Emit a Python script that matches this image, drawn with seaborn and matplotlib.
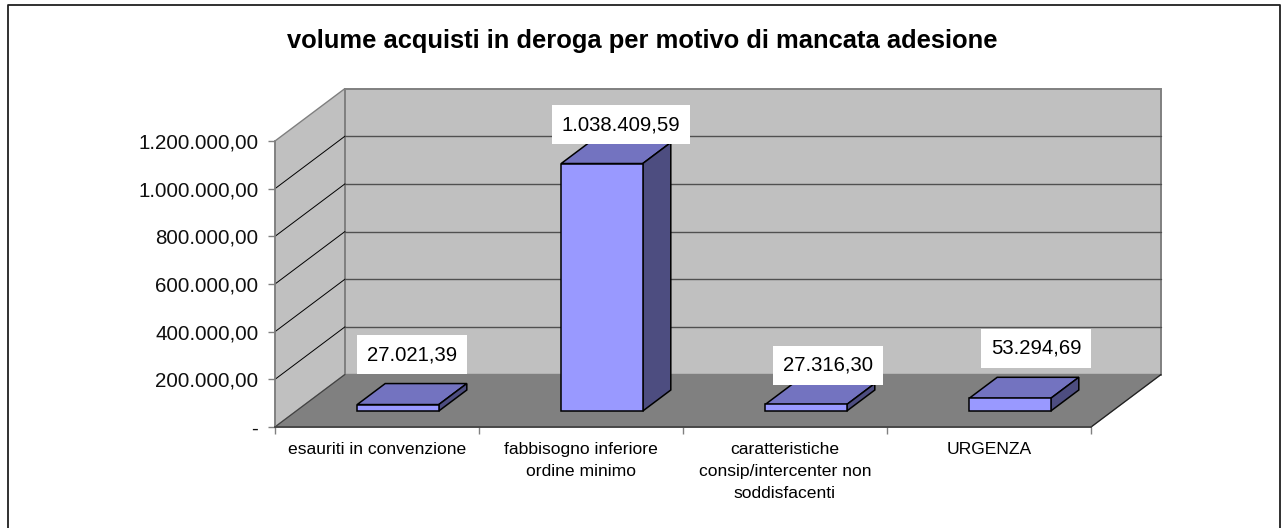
import numpy as np
import pandas as pd
import matplotlib
matplotlib.use('Agg')
import matplotlib.pyplot as plt
from matplotlib.lines import Line2D
from matplotlib.patches import Polygon, Rectangle
import seaborn as sns

# dati
categories = ['esauriti in convenzione',
              'fabbisogno inferiore\nordine minimo',
              'caratteristiche\nconsip/intercenter non\nsoddisfacenti',
              'URGENZA']
values = [27021.39, 1038409.59, 27316.30, 53294.69]
value_labels = ['27.021,39', '1.038.409,59', '27.316,30', '53.294,69']
y_ticks = [0, 200000, 400000, 600000, 800000, 1000000, 1200000]
y_tick_labels = ['-', '200.000,00', '400.000,00', '600.000,00',
                 '800.000,00', '1.000.000,00', '1.200.000,00']
title = 'volume acquisti in deroga per motivo di mancata adesione'

W, H = 1284, 528
L, R, B, T = 275, 1091, 427, 141          # piano frontale in pixel
PX_X = 4 / (R - L)                        # categorie per pixel
PX_Y = 1200000 / (B - T)                  # valore per pixel
DEPTH_X, DEPTH_Y = 70 * PX_X, 52.5 * PX_Y  # profondita del box 3D
BAR_DX, BAR_DY = 21 * PX_X, 16 * PX_Y     # arretramento barre
TOP_DX, TOP_DY = 28 * PX_X, 21 * PX_Y     # profondita barre
LABEL_OFFSET = [(14, 50), (19, 39), (22, 39), (26, 50)]  # px dal bordo barra

sns.set_theme(style='white')
plt.rcParams['font.family'] = ['Liberation Sans', 'DejaVu Sans']

fig = plt.figure(figsize=(W / 100, H / 100), dpi=100)
# cornice del grafico, aperta in basso
frame_x = [7.5 / W, 7.5 / W, 1279.5 / W, 1279.5 / W]
frame_y = [0, 1 - 4.5 / H, 1 - 4.5 / H, 0]
fig.add_artist(Line2D(frame_x, frame_y, color='#202020', linewidth=1.3,
                      transform=fig.transFigure))
ax = fig.add_axes([L / W, 1 - B / H, (R - L) / W, (B - T) / H])
ax.patch.set_alpha(0)

df = pd.DataFrame({'categoria': categories, 'valore': values})
sns.barplot(data=df, x='categoria', y='valore', ax=ax, color='#9999FF',
            saturation=1, width=0.4, edgecolor='black', linewidth=1.1,
            errorbar=None, zorder=5)
ax.set_xlim(-0.5, 3.5)
ax.set_ylim(0, 1200000)

# pareti del box 3D
x0, x1 = -0.5, 3.5
wall = dict(clip_on=False, zorder=0)
ax.add_patch(Polygon([(x0, 0), (x0, 1200000), (x0 + DEPTH_X, 1200000 + DEPTH_Y),
                      (x0 + DEPTH_X, DEPTH_Y)], facecolor='#C0C0C0',
                     edgecolor='#808080', linewidth=1.0, **wall))
ax.add_patch(Rectangle((x0 + DEPTH_X, DEPTH_Y), x1 - x0, 1200000, facecolor='#C0C0C0',
                       edgecolor='#808080', linewidth=1.4, **wall))
ax.add_patch(Polygon([(x0, 0), (x1, 0), (x1 + DEPTH_X, DEPTH_Y), (x0 + DEPTH_X, DEPTH_Y)],
                     facecolor='#808080', edgecolor='#808080', linewidth=1.0, **wall))
ax.plot([x1, x1 + DEPTH_X], [0, DEPTH_Y], color='#202020', lw=0.9, clip_on=False, zorder=1)
ax.plot([x0, x0 + DEPTH_X], [0, DEPTH_Y], color='#404040', lw=0.8, clip_on=False, zorder=1)

# griglia su parete laterale e di fondo
for t in y_ticks[1:-1]:
    ax.plot([x0, x0 + DEPTH_X], [t, t + DEPTH_Y], color='black', lw=0.7,
            clip_on=False, zorder=1)
    ax.plot([x0 + DEPTH_X, x1 + DEPTH_X], [t + DEPTH_Y, t + DEPTH_Y], color='#505050',
            lw=1.0, clip_on=False, zorder=1)

# barre con facce superiore e laterale
for bar, label, off in zip(ax.patches[:len(values)], value_labels, LABEL_OFFSET):
    bx = bar.get_x() + BAR_DX
    bw, bh = bar.get_width(), bar.get_height()
    bar.set_x(bx)
    bar.set_y(BAR_DY)
    bar.set_clip_on(False)
    y_bot, y_top = BAR_DY, BAR_DY + bh
    ax.add_patch(Polygon([(bx, y_top), (bx + bw, y_top), (bx + bw + TOP_DX, y_top + TOP_DY),
                          (bx + TOP_DX, y_top + TOP_DY)], facecolor='#7373C0',
                         edgecolor='black', linewidth=1.1, clip_on=False, zorder=4))
    ax.add_patch(Polygon([(bx + bw, y_bot), (bx + bw + TOP_DX, y_bot + TOP_DY),
                          (bx + bw + TOP_DX, y_top + TOP_DY), (bx + bw, y_top)],
                         facecolor='#4D4D80', edgecolor='black', linewidth=1.1,
                         clip_on=False, zorder=4))
    ax.annotate(label, xy=(bx + bw / 2, y_top), xytext=(off[0] * 0.72, off[1] * 0.72),
                textcoords='offset points', ha='center', va='center', fontsize=14.6,
                color='black', zorder=6, annotation_clip=False,
                bbox=dict(boxstyle='square,pad=0.5', facecolor='white', edgecolor='none'))

ax.set_yticks(y_ticks)
ax.set_yticklabels(y_tick_labels, fontsize=14.8, color='#101010')
ax.set_xticks(np.arange(-0.5, 4), minor=True)
ax.set_xticks(range(len(categories)))
ax.set_xticklabels(categories, fontsize=12.6, color='black', linespacing=1.62, va='top')
ax.tick_params(axis='x', which='major', length=0, pad=10.5)
ax.tick_params(axis='x', which='minor', length=5, width=1, color='#808080', bottom=True)
ax.tick_params(axis='y', length=5, width=1, color='#808080', left=True, pad=7)
ax.set_xlabel('')
ax.set_ylabel('')
for side in ['top', 'right']:
    ax.spines[side].set_visible(False)
ax.spines['left'].set_color('#808080')
ax.spines['bottom'].set_color('#404040')
ax.spines['left'].set_zorder(2)
ax.spines['bottom'].set_zorder(2)
ax.grid(False)

fig.suptitle(title, x=642 / W, y=1 - 41 / H, va='center', fontsize=18.4,
             fontweight='bold', color='black')

fig.savefig('out.png', dpi=100)
